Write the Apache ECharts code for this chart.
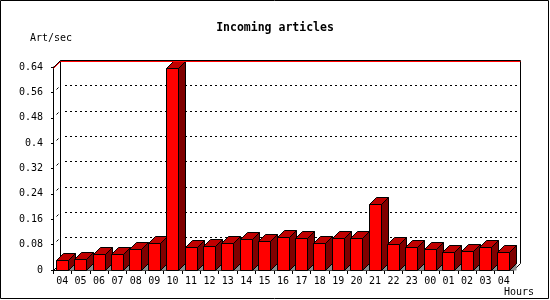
<!DOCTYPE html>
<html><head><meta charset="utf-8">
<script src="https://cdn.jsdelivr.net/npm/echarts@6/dist/echarts.min.js"></script>
<style>html,body{margin:0;padding:0;background:#fff}#c{width:550px;height:300px}</style>
</head><body><div id="c"></div>
<script>
// ---- data ----
const hours = ['04','05','06','07','08','09','10','11','12','13','14','15','16','17','18','19','20','21','22','23','00','01','02','03','04'];
const rates = [0.030,0.034,0.049,0.049,0.066,0.084,0.636,0.072,0.075,0.084,0.097,0.090,0.103,0.100,0.084,0.100,0.100,0.205,0.081,0.072,0.065,0.056,0.059,0.072,0.056];
const yTicks = [0,0.08,0.16,0.24,0.32,0.4,0.48,0.56,0.64];
const chartTitle = 'Incoming articles';
const yUnit = 'Art/sec';
const xUnit = 'Hours';

const FONT = 'DejaVu Sans Mono';
const D = 7; // 3D depth in px
const yMin = yTicks[0], yMax = yTicks[yTicks.length-1], yStep = yTicks[1]-yTicks[0];
const maxRate = Math.max(...rates);
const snap = v => Math.floor(v) + 0.5;

const chart = echarts.init(document.getElementById('c'));

function line(x1,y1,x2,y2,color,extra){
  return Object.assign({type:'line', shape:{x1,y1,x2,y2}, style:{stroke:color||'#000', lineWidth:1}}, extra||{});
}

const option = {
  animation:false,
  backgroundColor:'#fff',
  title:{text:chartTitle, left:'center', top:17, textStyle:{fontFamily:FONT, fontSize:11.5, fontWeight:'bold', color:'#000'}},
  grid:[
    {left:53, right:37, top:67, bottom:30},
    {left:65, right:30, top:60, bottom:37}
  ],
  xAxis:[
    {type:'category', gridIndex:0, data:hours, boundaryGap:true,
     axisLine:{show:true, lineStyle:{color:'#000', width:1}},
     axisTick:{show:true, length:4, interval:0, lineStyle:{color:'#000'}},
     axisLabel:{interval:0, margin:6, color:'#000', fontFamily:FONT, fontSize:10}},
    {type:'category', gridIndex:1, data:hours, show:false}
  ],
  yAxis:[
    {type:'value', gridIndex:0, min:yMin, max:yMax, interval:yStep,
     axisLine:{show:true, lineStyle:{color:'#000'}},
     axisTick:{show:true, length:2, lineStyle:{color:'#000'}},
     splitLine:{show:false},
     axisLabel:{margin:10, color:'#000', fontFamily:FONT, fontSize:10, formatter:v=>String(+v.toFixed(2))}},
    {type:'value', gridIndex:1, min:yMin, max:yMax, interval:yStep,
     axisLine:{show:false}, axisTick:{show:false}, axisLabel:{show:false},
     splitLine:{show:true, lineStyle:{color:'#000', type:[2,3], width:1}}}
  ],
  series:[
    { // back wall frame
      type:'custom', xAxisIndex:0, yAxisIndex:0, z:1, clip:false, silent:true,
      data:[[0, yMax]], encode:{x:0,y:1},
      renderItem(params, api){
        const cs = params.coordSys;
        const yt = snap(api.coord([0, yMax])[1]) - D;
        const yb = snap(api.coord([0, yMin])[1]) - D;
        const xl = snap(cs.x) + D, xr = snap(cs.x + cs.width) + D;
        return {type:'group', children:[
          line(xl, yt, xr, yt), line(xl, yt, xl, yb), line(xr, yt, xr, yb),
          line(snap(cs.x), yb + D, xl, yb), line(xr - D, yb + D, xr, yb)
        ]};
      }
    },
    { // 3D bars
      type:'custom', xAxisIndex:0, yAxisIndex:0, z:3, clip:false,
      data: rates.map((v,i)=>[i,v]), encode:{x:0,y:1},
      renderItem(params, api){
        const i = api.value(0), v = api.value(1);
        const top = api.coord([i, v]);
        const base = api.coord([i, 0]);
        const band = api.size([1,0])[0];
        const w = Math.round(band*0.65);
        const xl = snap(top[0] - w/2), xr = xl + w;
        const yt = snap(top[1]), yb = snap(base[1]);
        const st = {stroke:'#000', lineWidth:1, lineJoin:'miter'};
        return {type:'group', children:[
          {type:'polygon', shape:{points:[[xr,yb],[xr+D,yb-D],[xr+D,yb]]}, style:{fill:'#8c8c8c'}},
          {type:'polygon', shape:{points:[[xr,yb],[xr,yt],[xr+D,yt-D],[xr+D,yb-D]]}, style:Object.assign({fill:'#800000'}, st)},
          {type:'polygon', shape:{points:[[xl,yt],[xl+D,yt-D],[xr+D,yt-D],[xr,yt]]}, style:Object.assign({fill:'#c00000'}, st)},
          {type:'rect', shape:{x:xl, y:yt, width:w, height:yb-yt}, style:Object.assign({fill:'#ff0000'}, st)}
        ]};
      }
    },
    { // tick connectors and max rule
      type:'custom', xAxisIndex:0, yAxisIndex:0, z:5, clip:false, silent:true,
      data:[[0, maxRate]], encode:{x:0,y:1},
      renderItem(params, api){
        const cs = params.coordSys;
        const x0 = snap(cs.x);
        const kids = [];
        yTicks.forEach(t=>{
          if (t === yMin) return;
          const y = snap(api.coord([0, t])[1]);
          if (t === yMax) kids.push(line(x0, y, x0+D, y-D));
          else kids.push(line(x0+3, y-3, x0+5, y-5));
        });
        const ym = snap(api.coord([0, api.value(1)])[1]);
        kids.push(line(x0, ym, x0+D, ym-D, '#ff0000'));
        kids.push(line(x0+D, ym-D, snap(cs.x+cs.width)+D, ym-D, '#ff0000'));
        return {type:'group', children:kids};
      }
    }
  ],
  graphic:[
    {type:'rect', shape:{x:0.5, y:0.5, width:548, height:298}, style:{fill:null, stroke:'#000', lineWidth:1}, silent:true, z:10},
    {type:'text', x:30, y:38.5, style:{text:yUnit, fontFamily:FONT, fontSize:10, fill:'#000', textVerticalAlign:'middle'}},
    {type:'text', x:504, y:292, style:{text:xUnit, fontFamily:FONT, fontSize:10, fill:'#000', textVerticalAlign:'middle'}}
  ]
};
chart.setOption(option);
</script>
</body></html>
